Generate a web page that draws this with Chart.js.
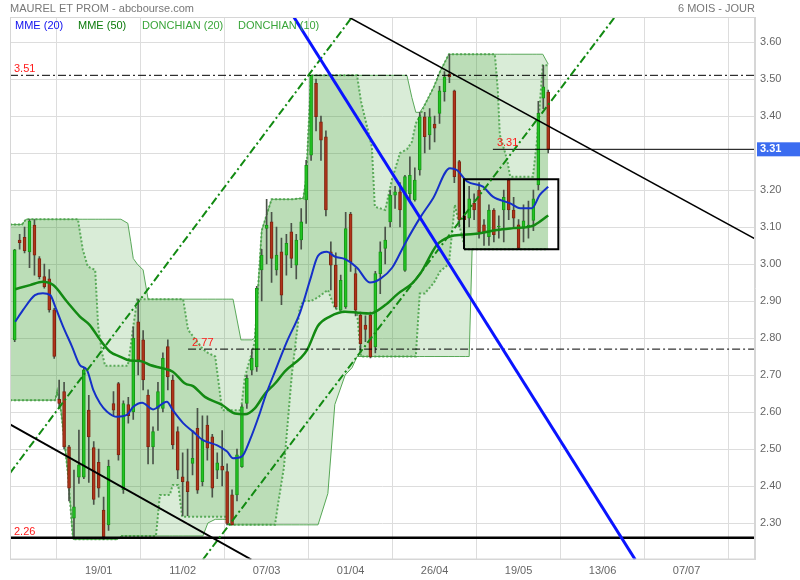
<!DOCTYPE html>
<html>
<head>
<meta charset="utf-8">
<script src="https://cdn.jsdelivr.net/npm/chart.js@4.4.1/dist/chart.umd.min.js"></script>
<style>
  body { margin: 0; background: #fff; }
  #wrap { width: 800px; height: 580px; }
</style>
</head>
<body>
<div id="wrap"><canvas id="chart" width="800" height="580"></canvas></div>
<script>
// daily candles, index 0 = first session
const opens = [2.795,3.065,3.072,3.033,3.105,3.015,2.966,2.96,2.876,2.634,
  2.655,2.506,2.313,2.424,2.424,2.605,2.504,2.464,2.335,2.295,
  2.623,2.677,2.39,2.62,2.60,2.844,2.795,2.646,2.506,2.61,
  2.61,2.777,2.686,2.547,2.425,2.412,2.461,2.556,2.412,2.565,
  2.533,2.443,2.454,2.439,2.376,2.376,2.452,2.623,2.713,2.722,
  2.984,3.096,3.114,2.984,3.033,3.024,3.087,2.997,3.065,3.173,
  3.294,3.488,3.384,3.344,3.033,2.997,2.875,2.884,3.135,2.974,
  2.862,2.835,2.862,2.776,2.974,3.042,3.114,3.186,3.195,2.983,
  3.19,3.173,3.254,3.398,3.349,3.378,3.407,3.466,3.513,3.468,
  3.277,3.13,3.124,3.164,3.20,3.106,3.074,3.146,3.10,3.146,
  3.227,3.146,3.106,3.097,3.10,3.118,3.214,3.448,3.465];
const highs = [3.04,3.08,3.10,3.12,3.12,3.02,3.00,2.985,2.88,2.686,
  2.68,2.51,2.443,2.551,2.72,2.645,2.52,2.50,2.37,2.47,
  2.655,2.68,2.63,2.64,2.83,2.905,2.82,2.66,2.56,2.68,
  2.76,2.795,2.70,2.56,2.49,2.50,2.55,2.61,2.59,2.59,
  2.54,2.49,2.55,2.46,2.39,2.50,2.62,2.70,2.77,2.94,
  3.04,3.175,3.14,3.10,3.07,3.08,3.11,3.08,3.15,3.28,
  3.51,3.50,3.40,3.36,3.06,3.03,2.97,3.14,3.14,2.99,
  2.87,2.86,2.87,2.98,3.06,3.10,3.20,3.21,3.22,3.24,
  3.29,3.26,3.41,3.41,3.42,3.40,3.48,3.52,3.567,3.47,
  3.28,3.16,3.21,3.19,3.22,3.12,3.16,3.15,3.13,3.20,
  3.23,3.18,3.12,3.16,3.17,3.20,3.44,3.537,3.47];
const lows = [2.79,3.04,3.03,2.99,2.97,2.96,2.935,2.87,2.745,2.61,
  2.50,2.36,2.258,2.407,2.42,2.41,2.35,2.37,2.256,2.28,
  2.59,2.47,2.38,2.57,2.58,2.70,2.66,2.46,2.46,2.55,
  2.60,2.66,2.50,2.42,2.32,2.32,2.43,2.38,2.40,2.47,
  2.37,2.42,2.40,2.295,2.295,2.36,2.45,2.61,2.70,2.71,
  2.90,3.00,2.95,2.97,2.89,2.97,2.99,2.96,3.04,3.11,
  3.28,3.36,3.28,3.13,2.93,2.88,2.875,2.88,2.98,2.86,
  2.76,2.79,2.746,2.76,2.92,3.00,3.10,3.15,3.10,2.98,
  3.17,3.17,3.24,3.30,3.31,3.33,3.38,3.44,3.49,3.22,
  3.10,3.08,3.10,3.12,3.07,3.05,3.05,3.06,3.07,3.06,
  3.12,3.10,3.04,3.06,3.07,3.09,3.20,3.42,3.30];
const closes = [3.038,3.058,3.036,3.116,3.024,2.966,2.939,2.876,2.75,2.623,
  2.506,2.394,2.344,2.457,2.714,2.533,2.364,2.394,2.263,2.453,
  2.605,2.484,2.623,2.59,2.80,2.741,2.687,2.506,2.547,2.655,
  2.745,2.695,2.511,2.443,2.412,2.385,2.475,2.389,2.524,2.502,
  2.394,2.463,2.443,2.299,2.295,2.484,2.614,2.691,2.745,2.934,
  3.024,3.105,3.015,3.024,2.916,3.056,3.015,3.065,3.114,3.267,
  3.51,3.398,3.335,3.146,2.997,2.884,2.956,3.096,3.006,2.875,
  2.785,2.823,2.749,2.974,3.033,3.065,3.186,3.195,3.146,3.236,
  3.24,3.227,3.398,3.344,3.398,3.367,3.468,3.506,3.506,3.236,
  3.119,3.12,3.176,3.146,3.087,3.087,3.146,3.079,3.10,3.18,
  3.146,3.124,3.043,3.117,3.105,3.176,3.407,3.479,3.31];

// donchian channels, read at their break points
const bandX = [-0.95,1.5,2.3,8.2,8.6,9.4,10.8,11.8,12.8,13.8,14.8,16.3,16.9,17.7,18.3,20.9,21.5,22.9,23.5,24,
  24.8,26,27,28.6,29.4,31.4,32,33.1,33.9,34.1,35.1,38.1,39.1,40.6,42,42.8,43.2,44.2,45.8,46.6,
  48,48.6,50,52,52.7,53.3,54.5,56.1,57.7,58.4,59,60,61.4,63.4,64.8,66.9,68.3,69.3,70.1,72.3,
  72.9,75,76.4,78,79.4,80.4,81.2,82,83,84.9,86.1,87.9,89.1,90.1,91.2,92,92.6,97.2,97.8,98.2,
  99.7,100.3,104.9,105.7,106.9,108];
const d20Hi = [3.107,3.107,3.121,3.121,3.121,3.121,3.121,3.121,3.121,3.121,3.121,3.121,3.121,3.121,3.121,3.121,3.121,3.11,3.06,3.015,
  3.00,2.984,2.905,2.905,2.905,2.905,2.905,2.905,2.905,2.905,2.905,2.905,2.905,2.905,2.905,2.905,2.905,2.905,2.795,2.795,
  2.795,2.80,3.09,3.175,3.175,3.175,3.175,3.175,3.177,3.177,3.23,3.51,3.51,3.51,3.51,3.51,3.51,3.51,3.51,3.51,
  3.51,3.51,3.51,3.51,3.51,3.45,3.41,3.41,3.43,3.48,3.52,3.567,3.567,3.567,3.567,3.567,3.567,3.567,3.567,3.567,
  3.567,3.567,3.567,3.567,3.567,3.54];
const d20Lo = [2.632,2.632,2.632,2.632,2.655,2.60,2.43,2.256,2.256,2.256,2.256,2.256,2.256,2.256,2.256,2.256,2.265,2.265,2.265,2.265,
  2.265,2.265,2.265,2.265,2.265,2.265,2.265,2.265,2.265,2.265,2.265,2.265,2.30,2.31,2.31,2.31,2.295,2.295,2.295,2.295,
  2.295,2.295,2.295,2.295,2.295,2.295,2.295,2.295,2.295,2.295,2.295,2.295,2.295,2.38,2.62,2.70,2.72,2.75,2.75,2.75,
  2.75,2.75,2.75,2.75,2.75,2.75,2.75,2.75,2.75,2.75,2.75,2.75,2.75,2.75,2.75,2.75,3.04,3.04,3.04,3.04,
  3.04,3.04,3.04,3.04,3.04,3.04];
const d10Hi = [3.107,3.107,3.121,3.121,3.121,3.121,3.121,3.121,3.121,3.038,2.993,2.984,2.831,2.759,2.725,2.725,2.725,2.725,2.78,2.831,
  2.905,2.905,2.905,2.905,2.905,2.905,2.905,2.905,2.905,2.905,2.822,2.77,2.76,2.75,2.605,2.605,2.605,2.605,2.605,2.695,
  2.76,2.79,3.09,3.175,3.175,3.175,3.175,3.175,3.177,3.177,3.23,3.51,3.51,3.51,3.51,3.51,3.51,3.51,3.44,3.317,
  3.155,3.146,3.23,3.30,3.31,3.33,3.38,3.40,3.43,3.48,3.52,3.567,3.567,3.567,3.567,3.567,3.567,3.567,3.47,3.35,
  3.281,3.236,3.236,3.33,3.537,3.537];
const d10Lo = [2.632,2.632,2.632,2.632,2.655,2.60,2.43,2.256,2.256,2.256,2.256,2.256,2.256,2.256,2.256,2.256,2.265,2.265,2.265,2.265,
  2.265,2.265,2.265,2.265,2.376,2.376,2.403,2.403,2.317,2.317,2.317,2.317,2.317,2.317,2.317,2.317,2.295,2.295,2.295,2.295,
  2.295,2.295,2.295,2.295,2.295,2.35,2.45,2.70,2.88,2.90,2.90,2.90,2.91,2.93,2.88,2.87,2.87,2.87,2.75,2.75,
  2.75,2.75,2.75,2.75,2.75,2.75,2.75,2.92,2.92,2.95,2.98,3.00,3.16,3.10,3.04,3.04,3.04,3.04,3.04,3.04,
  3.04,3.04,3.04,3.04,3.04,3.04];

// moving averages
const mme50X = [0.1,3.1,5.7,7.8,10.6,13.2,15.2,17.3,19.3,21.3,23.3,25.4,27.4,30,32,34.5,36.1,38.5,42,44.6,
  46.6,48.6,50.7,52.7,54.7,57.8,59.2,61.4,63.8,66.9,69.5,71.9,75,77.6,80.4,82.1,85.5,88.1,90.8,94.2,
  97.6,100.9,104.3,105.3,108];
const mme50 = [2.932,2.943,2.952,2.943,2.898,2.858,2.835,2.795,2.763,2.75,2.739,2.738,2.727,2.718,2.709,2.677,2.67,2.641,2.619,2.596,
  2.594,2.61,2.65,2.677,2.71,2.745,2.768,2.833,2.858,2.871,2.868,2.866,2.889,2.92,2.947,2.974,3.052,3.074,3.079,3.083,
  3.092,3.097,3.101,3.106,3.131];
const mme20X = [0.1,1.7,4.1,5.7,7.2,8.2,9.8,11.6,13.2,14.6,15.9,17.3,18.7,20.7,22.7,24,25.8,28,30.8,32,
  34.1,36.1,38.1,41,43,44.2,46,47.6,49.6,50.7,52.7,55.1,57.8,59.8,61.4,63.2,64.8,66.9,69.3,71.9,
  74,76.4,79,82.1,84.7,88.1,89.5,91.6,94.8,96.8,100.3,102.3,104.7,106.3,108];
const mme20 = [2.844,2.876,2.916,2.921,2.916,2.885,2.831,2.777,2.727,2.714,2.66,2.623,2.601,2.587,2.592,2.614,2.625,2.607,2.628,2.605,
  2.57,2.547,2.524,2.51,2.493,2.475,2.48,2.524,2.596,2.641,2.71,2.79,2.87,2.957,3.022,3.033,3.02,3.013,2.99,2.95,
  2.96,2.99,3.055,3.126,3.178,3.259,3.254,3.223,3.209,3.182,3.164,3.151,3.151,3.187,3.209];

// hand drawn trend lines [x0, y0, x1, y1]
const blackTop = [67.6, 3.6676, 149.86, 3.068];
const blackLow = [-0.95, 2.5665, 47.9, 2.2014];
const blueLine = [56.5, 3.6676, 125.6, 2.2014];
const greenUp = [-0.95, 2.435, 68.3, 3.6676];
const greenLow = [38.1, 2.2014, 121.5, 3.6676];

// horizontal levels
const levelValues = [3.51, 2.77, 2.26, 3.31];
const levelStart = [-0.95, 35.1, -0.95, 96.8];
const boxX = [90.95, 110.05];
const boxY = [3.04, 3.229];

const tickIdx = [17, 34, 51, 68, 85, 102, 119, 136];
const tickLabels = ['19/01', '11/02', '07/03', '01/04', '26/04', '19/05', '13/06', '07/07'];

const X_MIN = -0.95, X_MAX = 149.86;

const pts = (xs, ys) => xs.map((x, i) => ({ x: x, y: ys[i] }));
const seg = s => [{ x: s[0], y: s[1] }, { x: s[2], y: s[3] }];

const up = closes.map((c, i) => c >= opens[i]);

const bandFill = 'rgba(65,162,55,0.2)';
const dashDot = [8, 3, 2, 3];

function lineSet(data, color, width, extra) {
    return Object.assign({
        type: 'line',
        data: data,
        borderColor: color,
        borderWidth: width,
        pointRadius: 0,
        fill: false,
        tension: 0,
        order: 1
    }, extra || {});
}

const datasets = [
    lineSet(pts(bandX, d20Hi), '#5aa85a', 1, { fill: '+1', backgroundColor: bandFill, order: 20 }),
    lineSet(pts(bandX, d20Lo), '#5aa85a', 1, { order: 20 }),
    lineSet(pts(bandX, d10Hi), 'rgba(70,160,70,0.85)', 2, { fill: '+1', backgroundColor: bandFill, borderDash: [2, 2], order: 19 }),
    lineSet(pts(bandX, d10Lo), 'rgba(70,160,70,0.85)', 2, { borderDash: [2, 2], order: 19 }),
    {
        type: 'bar',
        data: lows.map((l, i) => ({ x: i, y: [l, highs[i]] })),
        backgroundColor: '#4a5248',
        barThickness: 1,
        grouped: false,
        order: 10
    },
    {
        type: 'bar',
        data: opens.map((o, i) => ({ x: i, y: [o, closes[i]] })),
        backgroundColor: up.map(u => u ? '#22c422' : '#b0341a'),
        borderColor: up.map(u => u ? '#179417' : '#7e2410'),
        borderWidth: 1,
        borderSkipped: false,
        barThickness: 3,
        minBarLength: 1,
        grouped: false,
        order: 9
    },
    lineSet(pts(mme50X, mme50), '#138a13', 2.5, { cubicInterpolationMode: 'monotone', order: 5 }),
    lineSet(pts(mme20X, mme20), '#1530c8', 2, { cubicInterpolationMode: 'monotone', order: 4 }),
    lineSet(seg(blackTop), '#000', 1.5),
    lineSet(seg(blackLow), '#000', 2),
    lineSet(seg(blueLine), '#0a14ff', 3),
    lineSet(seg(greenUp), '#128a12', 2, { borderDash: dashDot }),
    lineSet(seg(greenLow), '#128a12', 2, { borderDash: dashDot }),
    lineSet([{ x: levelStart[0], y: levelValues[0] }, { x: X_MAX, y: levelValues[0] }], '#000', 1, { borderDash: dashDot }),
    lineSet([{ x: levelStart[1], y: levelValues[1] }, { x: X_MAX, y: levelValues[1] }], '#000', 1, { borderDash: dashDot }),
    lineSet([{ x: levelStart[2], y: levelValues[2] }, { x: X_MAX, y: levelValues[2] }], '#000', 2.5),
    lineSet([{ x: levelStart[3], y: levelValues[3] }, { x: X_MAX, y: levelValues[3] }], '#000', 1),
    lineSet([
        { x: boxX[0], y: boxY[0] }, { x: boxX[1], y: boxY[0] },
        { x: boxX[1], y: boxY[1] }, { x: boxX[0], y: boxY[1] },
        { x: boxX[0], y: boxY[0] }
    ], '#000', 2)
];

// texts and border drawn on top
const overlay = {
    id: 'overlay',
    afterDraw(chart) {
        const { ctx, chartArea: a, scales } = chart;
        const x = scales.x, y = scales.y;
        ctx.save();
        ctx.strokeStyle = '#d6d6d6';
        ctx.lineWidth = 1;
        ctx.strokeRect(a.left + 0.5, a.top + 0.5, a.right - a.left - 1, a.bottom - a.top - 1);

        ctx.font = '11px Arial, "Liberation Sans", sans-serif';
        ctx.textBaseline = 'middle';
        ctx.fillStyle = '#777';
        ctx.textAlign = 'left';
        ctx.fillText('MAUREL ET PROM - abcbourse.com', 10, 9);
        ctx.textAlign = 'right';
        ctx.fillText('6 MOIS - JOUR', 755, 9);

        ctx.textAlign = 'left';
        const legend = [['MME (20)', '#1010ee', 15], ['MME (50)', '#0a7a0a', 78],
            ['DONCHIAN (20)', '#3aa53a', 142], ['DONCHIAN (10)', '#3aa53a', 238]];
        legend.forEach(l => {
            ctx.fillStyle = l[1];
            ctx.fillText(l[0], l[2], 26);
        });

        ctx.fillStyle = '#ff1a1a';
        levelValues.forEach((v, i) => {
            const px = Math.max(x.getPixelForValue(levelStart[i]), a.left) + 4;
            ctx.fillText(v.toFixed(2), px, y.getPixelForValue(v) - 6);
        });

        const last = levelValues[3];
        const py = y.getPixelForValue(last);
        ctx.fillStyle = '#3b6cf0';
        ctx.fillRect(757, py - 7, 43, 14);
        ctx.fillStyle = '#fff';
        ctx.font = 'bold 11px Arial, "Liberation Sans", sans-serif';
        ctx.fillText(last.toFixed(2), 760, py);
        ctx.restore();
    }
};

Chart.defaults.font.family = 'Arial, "Liberation Sans", sans-serif';
Chart.defaults.font.size = 11;

new Chart(document.getElementById('chart').getContext('2d'), {
    type: 'bar',
    data: { datasets: datasets },
    options: {
        responsive: false,
        animation: false,
        devicePixelRatio: 1,
        layout: { padding: { left: 10, top: 17, right: 0, bottom: 0 } },
        plugins: {
            legend: { display: false },
            tooltip: { enabled: false }
        },
        scales: {
            x: {
                type: 'linear',
                min: X_MIN,
                max: X_MAX,
                offset: false,
                afterBuildTicks: s => { s.ticks = tickIdx.map(v => ({ value: v })); },
                afterFit: s => { s.height = 20.5; },
                ticks: {
                    autoSkip: false,
                    maxRotation: 0,
                    padding: 5,
                    color: '#666',
                    callback: (v, i) => tickLabels[i]
                },
                grid: { color: '#dddddd', drawTicks: false },
                border: { color: '#d6d6d6' }
            },
            y: {
                type: 'linear',
                position: 'right',
                min: 2.2014,
                max: 3.6676,
                afterFit: s => { s.width = 45; },
                ticks: {
                    stepSize: 0.1,
                    includeBounds: false,
                    padding: 5,
                    color: '#666',
                    callback: v => v.toFixed(2)
                },
                grid: { color: '#dddddd', drawTicks: false },
                border: { color: '#d6d6d6' }
            }
        }
    },
    plugins: [overlay]
});
</script>
</body>
</html>
